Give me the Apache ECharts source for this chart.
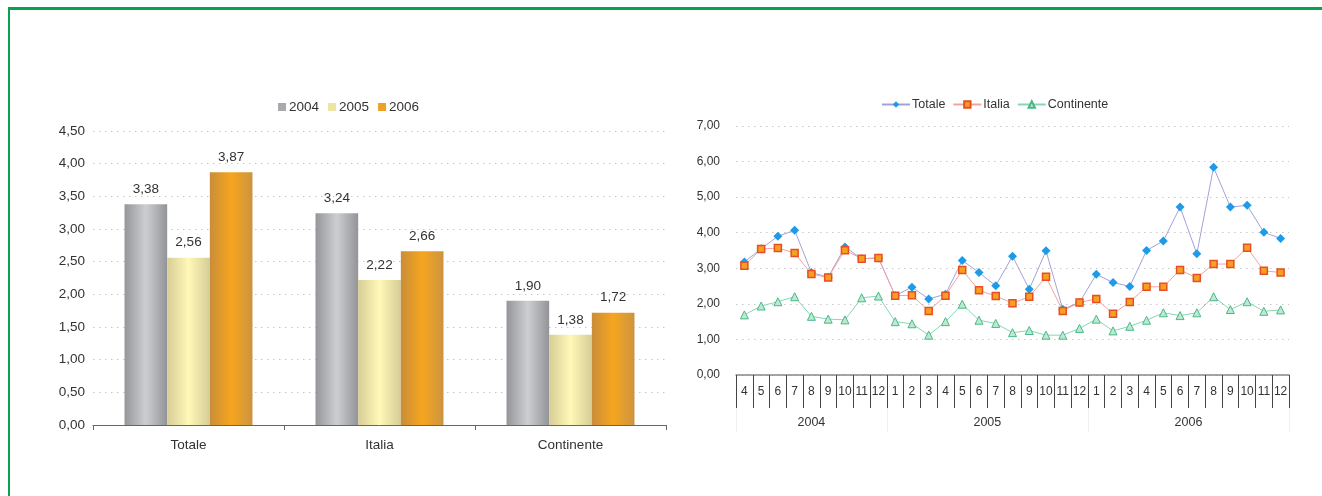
<!DOCTYPE html>
<html>
<head>
<meta charset="utf-8">
<script src="https://cdn.jsdelivr.net/npm/echarts@6/dist/echarts.min.js"></script>
<style>
html,body{margin:0;padding:0;background:#fff;}
#frame{position:absolute;left:8px;top:7px;width:1330px;height:500px;border-left:2px solid #0aa04c;border-top:3px solid #0aa04c;box-sizing:border-box;}
#chart{position:absolute;left:0;top:0;width:1322px;height:496px;}
</style>
</head>
<body>
<div id="frame"></div>
<div id="chart"></div>
<script>
// ---- Left chart data ----
const barCategories = ['Totale', 'Italia', 'Continente'];
const barYears = ['2004', '2005', '2006'];
const bar2004 = [3.38, 3.24, 1.90];
const bar2005 = [2.56, 2.22, 1.38];
const bar2006 = [3.87, 2.66, 1.72];

// ---- Right chart data ----
const monthLabels = ['4','5','6','7','8','9','10','11','12',
  '1','2','3','4','5','6','7','8','9','10','11','12',
  '1','2','3','4','5','6','7','8','9','10','11','12'];
const yearLabels = ['2004', '2005', '2006'];
const seriesNames = ['Totale', 'Italia', 'Continente'];
const totale = [3.18,3.55,3.90,4.07,2.88,2.75,3.60,3.27,3.29,
  2.23,2.47,2.14,2.27,3.22,2.88,2.51,3.34,2.41,3.49,1.85,2.04,
  2.83,2.60,2.49,3.50,3.77,4.72,3.41,5.84,4.72,4.77,4.01,3.84];
const italia = [3.07,3.54,3.57,3.43,2.84,2.74,3.51,3.27,3.29,
  2.23,2.24,1.80,2.23,2.95,2.38,2.22,2.02,2.20,2.76,1.80,2.04,
  2.14,1.72,2.05,2.48,2.48,2.95,2.73,3.12,3.12,3.58,2.93,2.88];
const continente = [1.69,1.94,2.06,2.20,1.65,1.57,1.55,2.17,2.22,
  1.50,1.44,1.12,1.50,1.99,1.54,1.45,1.19,1.25,1.12,1.12,1.31,
  1.57,1.24,1.37,1.54,1.75,1.67,1.75,2.20,1.84,2.06,1.79,1.83];

// year groups from month sequence
const groupStarts = [0];
for (let i = 1; i < monthLabels.length; i++) {
  if (Number(monthLabels[i]) < Number(monthLabels[i-1])) groupStarts.push(i);
}
const groupBounds = groupStarts.concat([monthLabels.length]);
const yearCenters = [];
for (let g = 0; g < groupStarts.length; g++) yearCenters.push((groupBounds[g] + groupBounds[g+1]) / 2);

const fmt = v => Number(v).toFixed(2).replace('.', ',');
const FONT = '"Liberation Sans", Arial, sans-serif';
const TXT = '#333';
const LFS = 13.5; // left chart font size

function grad(c0, c1, c2) {
  return new echarts.graphic.LinearGradient(0, 0, 1, 0, [
    {offset: 0, color: c0}, {offset: 0.5, color: c1}, {offset: 1, color: c2}
  ]);
}
const barStyles = [
  {fill: grad('#95969a', '#cdced1', '#939498'), legend: '#a9aaad'},
  {fill: grad('#d6cd96', '#fff8b8', '#d5cd96'), legend: '#efe5a2'},
  {fill: grad('#c98d3a', '#f6a51e', '#cc9440'), legend: '#eea125'}
];
const barData = [bar2004, bar2005, bar2006];

const chart = echarts.init(document.getElementById('chart'), null, {renderer: 'canvas'});

const option = {
  animation: false,
  textStyle: {fontFamily: FONT, color: TXT},
  legend: [
    {
      data: barYears.map((y, i) => ({name: y, itemStyle: {color: barStyles[i].legend}})),
      left: 273, top: 95, itemWidth: 8, itemHeight: 8, itemGap: 9, icon: 'rect',
      textStyle: {fontSize: LFS, color: TXT, fontFamily: FONT, padding: [0, 0, 0, -2]}
    },
    {
      data: seriesNames,
      left: 876, top: 93, itemWidth: 28, itemHeight: 8, itemGap: 7,
      textStyle: {fontSize: 12.5, color: TXT, fontFamily: FONT, padding: [0, 0, 0, -3]}
    }
  ],
  grid: [
    {left: 93, right: 656, top: 131, bottom: 71},
    {left: 736, right: 33, top: 126, bottom: 121}
  ],
  xAxis: [
    {
      gridIndex: 0, type: 'category', data: barCategories,
      axisLine: {lineStyle: {color: '#666', width: 1}},
      axisTick: {show: true, length: 5, lineStyle: {color: '#666'}},
      axisLabel: {fontSize: LFS, color: TXT, margin: 13, fontFamily: FONT}
    },
    {
      gridIndex: 1, type: 'category', data: monthLabels,
      axisLine: {lineStyle: {color: '#888', width: 1.5}},
      axisTick: {show: true, interval: 0, length: 33, lineStyle: {color: '#444'}},
      axisLabel: {interval: 0, fontSize: 12, color: TXT, margin: 11, fontFamily: FONT}
    },
    {
      gridIndex: 1, type: 'value', min: 0, max: monthLabels.length, position: 'bottom', offset: 33,
      axisLine: {show: false},
      splitLine: {show: false},
      axisTick: {show: true, length: 24, customValues: groupBounds, lineStyle: {color: '#f0f0f0'}},
      axisLabel: {
        customValues: yearCenters, fontSize: 12.5, color: TXT, margin: 8, fontFamily: FONT,
        formatter: v => {
          const idx = yearCenters.findIndex(c => Math.abs(c - v) < 1e-6);
          return idx >= 0 ? yearLabels[idx] : '';
        }
      }
    }
  ],
  yAxis: [
    {
      gridIndex: 0, type: 'value', min: 0, max: 4.5, interval: 0.5,
      axisLine: {show: false}, axisTick: {show: false},
      axisLabel: {formatter: fmt, fontSize: LFS, color: TXT, margin: 8, fontFamily: FONT},
      splitLine: {lineStyle: {color: '#c8c8c8', type: [1.5, 4.5], width: 1}}
    },
    {
      gridIndex: 1, type: 'value', min: 0, max: 7, interval: 1,
      axisLine: {show: false}, axisTick: {show: false},
      axisLabel: {formatter: fmt, fontSize: 12, color: TXT, margin: 16, fontFamily: FONT},
      splitLine: {lineStyle: {color: '#c8c8c8', type: [1.5, 4.5], width: 1}}
    }
  ],
  series: barYears.map((y, i) => ({
    name: y, type: 'bar', xAxisIndex: 0, yAxisIndex: 0,
    data: barData[i],
    barGap: '0%', barCategoryGap: '33%',
    itemStyle: {color: barStyles[i].fill},
    label: {show: true, position: 'top', distance: 8, formatter: p => fmt(p.value), fontSize: LFS, color: TXT, fontFamily: FONT}
  })).concat([
    {
      name: 'Totale', type: 'line', xAxisIndex: 1, yAxisIndex: 1, data: totale,
      symbol: 'diamond', symbolSize: 9, showAllSymbol: true,
      lineStyle: {color: '#a2a2d6', width: 1},
      itemStyle: {color: '#1e9be8', borderColor: '#1e9be8', borderWidth: 0}
    },
    {
      name: 'Italia', type: 'line', xAxisIndex: 1, yAxisIndex: 1, data: italia,
      symbol: 'rect', symbolSize: 7, showAllSymbol: true,
      lineStyle: {color: '#f4a2a0', width: 1},
      itemStyle: {color: '#f5a020', borderColor: '#e84e24', borderWidth: 1.5}
    },
    {
      name: 'Continente', type: 'line', xAxisIndex: 1, yAxisIndex: 1, data: continente,
      symbol: 'triangle', symbolSize: 8, showAllSymbol: true,
      lineStyle: {color: '#86d6b6', width: 1},
      itemStyle: {color: '#bfe8d0', borderColor: '#48b888', borderWidth: 1}
    }
  ])
};
chart.setOption(option);
</script>
</body>
</html>
